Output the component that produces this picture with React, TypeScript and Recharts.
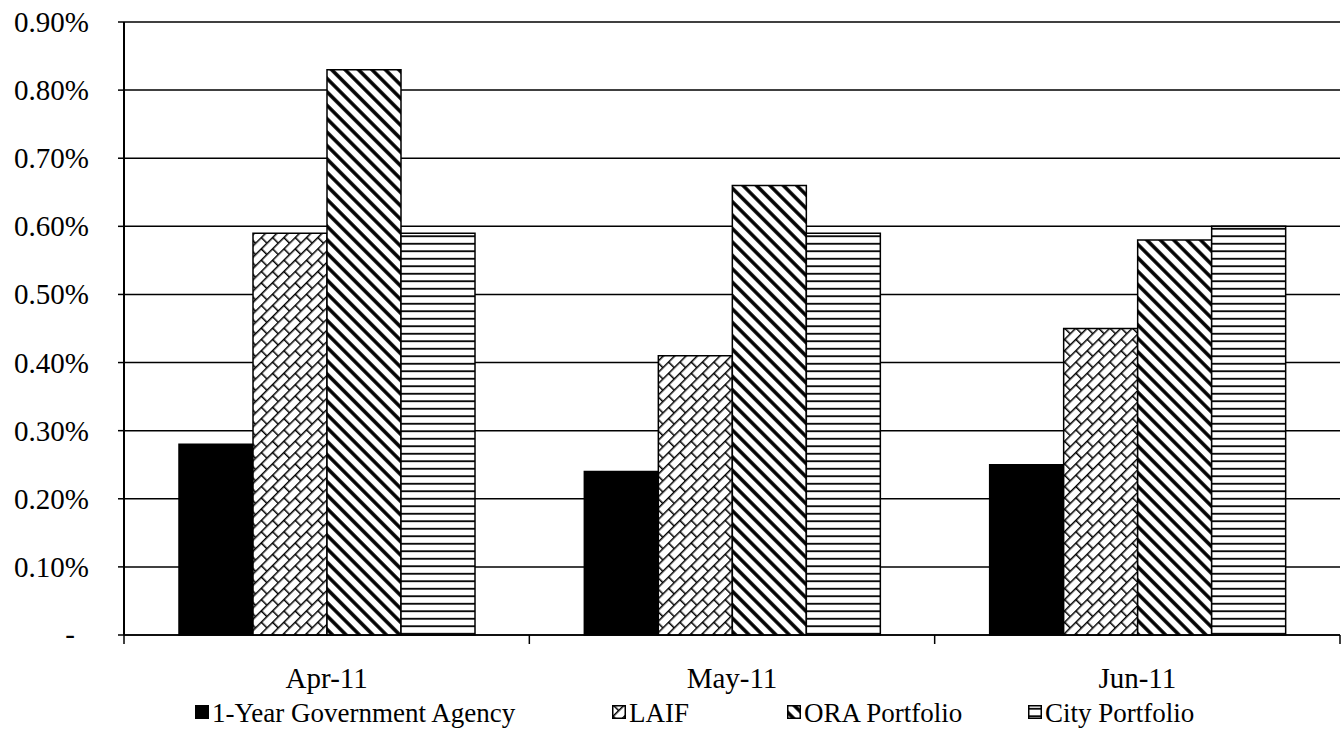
import { BarChart, Bar, XAxis, YAxis, CartesianGrid } from "recharts";

const months = ["Apr-11", "May-11", "Jun-11"];
const agency = [0.28, 0.24, 0.25];
const laif = [0.59, 0.41, 0.45];
const ora = [0.83, 0.66, 0.58];
const city = [0.59, 0.59, 0.6];
const yTicks = [0, 0.1, 0.2, 0.3, 0.4, 0.5, 0.6, 0.7, 0.8, 0.9];

const series = [
  { key: "agency", name: "1-Year Government Agency", fill: "#000" },
  { key: "laif", name: "LAIF", fill: "url(#brick)" },
  { key: "ora", name: "ORA Portfolio", fill: "url(#diag)" },
  { key: "city", name: "City Portfolio", fill: "url(#horiz)" },
];

const data = months.map((m, i) => ({
  month: m,
  agency: agency[i],
  laif: laif[i],
  ora: ora[i],
  city: city[i],
}));

const W = 1343;
const H = 729;
const LEFT = 124;
const RIGHT = 3;
const band = (W - LEFT - RIGHT) / months.length;
const font = "'Liberation Serif', 'Times New Roman', serif";

function Patterns() {
  return (
    <svg width={0} height={0} style={{ position: "absolute" }}>
      <defs>
        <pattern id="brick" patternUnits="userSpaceOnUse" width={16} height={16} patternTransform="rotate(-45)">
          <rect width={16} height={16} fill="#fff" />
          <line x1={0} y1={0.75} x2={16} y2={0.75} stroke="#000" strokeWidth={1.5} />
          <line x1={0} y1={8.75} x2={16} y2={8.75} stroke="#000" strokeWidth={1.5} />
          <line x1={0.75} y1={0} x2={0.75} y2={8} stroke="#000" strokeWidth={1.5} />
          <line x1={8.75} y1={8} x2={8.75} y2={16} stroke="#000" strokeWidth={1.5} />
        </pattern>
        <pattern id="diag" patternUnits="userSpaceOnUse" width={9.5} height={9.5} patternTransform="rotate(45)">
          <rect width={9.5} height={9.5} fill="#fff" />
          <line x1={0} y1={4.75} x2={9.5} y2={4.75} stroke="#000" strokeWidth={3.5} />
        </pattern>
        <pattern id="horiz" patternUnits="userSpaceOnUse" width={8} height={7.5}>
          <rect width={8} height={7.5} fill="#fff" />
          <line x1={0} y1={3.75} x2={8} y2={3.75} stroke="#000" strokeWidth={1.8} />
        </pattern>
      </defs>
    </svg>
  );
}

function YTick({ x, y, payload }: any) {
  const v = payload.value as number;
  if (v === 0) {
    return (
      <text x={x - 19} y={y} dy={9} textAnchor="middle" fontFamily={font} fontSize={29} fill="#000">
        -
      </text>
    );
  }
  return (
    <text x={x} y={y} dy={10} textAnchor="end" fontFamily={font} fontSize={29} fill="#000">
      {v.toFixed(2)}%
    </text>
  );
}

function XTick({ x, y, payload, index }: any) {
  return (
    <g>
      <line x1={x - band / 2} y1={y} x2={x - band / 2} y2={y + 9} stroke="#000" strokeWidth={1.5} />
      {index === months.length - 1 && (
        <line x1={x + band / 2} y1={y} x2={x + band / 2} y2={y + 9} stroke="#000" strokeWidth={1.5} />
      )}
      <text x={x} y={y + 53} textAnchor="middle" fontFamily={font} fontSize={29} fill="#000">
        {payload.value}
      </text>
    </g>
  );
}

const legendLeft = [195, 612, 787, 1028];

function LegendRow() {
  return (
    <div style={{ position: "absolute", left: 0, top: 0, width: W, height: H, pointerEvents: "none" }}>
      {series.map((s, i) => (
        <div
          key={s.key}
          style={{
            position: "absolute",
            left: legendLeft[i],
            top: 700,
            display: "flex",
            alignItems: "center",
            fontFamily: font,
            fontSize: 27,
            lineHeight: "27px",
            color: "#000",
            whiteSpace: "nowrap",
          }}
        >
          <svg width={14} height={14} style={{ marginRight: 3, marginTop: -3 }}>
            <rect x={0.75} y={0.75} width={12.5} height={12.5} fill={s.fill} stroke="#000" strokeWidth={1.5} />
          </svg>
          {s.name}
        </div>
      ))}
    </div>
  );
}

export default function App() {
  return (
    <div style={{ position: "relative", width: W, height: H, background: "#fff" }}>
      <style>{`body{margin:0}`}</style>
      <Patterns />
      <BarChart
        width={W}
        height={H}
        data={data}
        margin={{ top: 22, right: RIGHT, left: 0, bottom: 0 }}
        barSize={74}
        barGap={0}
      >
        <CartesianGrid vertical={false} stroke="#000" strokeWidth={1.5} />
        <XAxis
          dataKey="month"
          height={94}
          tickLine={false}
          tickSize={0}
          tickMargin={0}
          axisLine={{ stroke: "#000", strokeWidth: 1.5 }}
          tick={<XTick />}
          interval={0}
        />
        <YAxis
          width={LEFT}
          domain={[0, 0.9]}
          ticks={yTicks}
          tickSize={6}
          tickMargin={29}
          tickLine={{ stroke: "#000", strokeWidth: 1.5 }}
          axisLine={{ stroke: "#000", strokeWidth: 2 }}
          tick={<YTick />}
          interval={0}
        />
        {series.map((s) => (
          <Bar
            key={s.key}
            dataKey={s.key}
            name={s.name}
            fill={s.fill}
            stroke="#000"
            strokeWidth={1.5}
            isAnimationActive={false}
          />
        ))}
      </BarChart>
      <LegendRow />
    </div>
  );
}
